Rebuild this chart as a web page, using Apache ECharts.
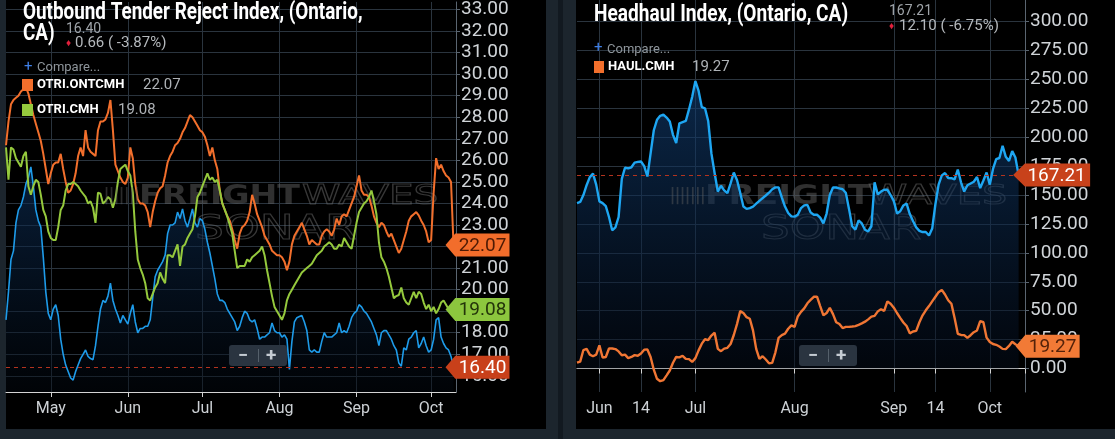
<!DOCTYPE html>
<html>
<head>
<meta charset="utf-8">
<script src="https://cdn.jsdelivr.net/npm/echarts@6/dist/echarts.min.js"></script>
<style>
  html, body { margin: 0; padding: 0; background: #1c252d; }
  #chart { width: 1115px; height: 439px; }
</style>
</head>
<body>
<div id="chart"></div>
<script>
// daily values, left panel starts Apr 13, right panel starts May 25
const otriOntario = [
  18.6,19.9,21.4,21.8,23.1,23.7,23.9,24.3,24.9,25.2,
  25.7,24.8,23.7,23.2,22.9,21.5,19.9,18.9,18.6,19.1,
  19.3,18.8,17.7,17.0,16.5,16.2,15.9,15.8,16.2,16.5,
  16.8,17.0,17.2,16.9,16.8,16.75,17.4,18.3,19.1,19.5,
  19.4,19.7,20.3,19.5,19.1,18.8,18.45,18.8,18.6,18.4,
  18.9,19.3,18.5,18.0,18.2,18.2,18.3,18.3,18.6,19.6,
  20.6,20.9,21.1,21.3,21.6,22.6,23.0,23.0,23.1,23.6,
  23.3,23.75,23.2,22.9,23.3,23.75,23.1,22.9,23.3,23.2,
  22.8,22.2,21.7,21.1,20.5,19.8,19.5,19.5,19.4,19.1,
  18.9,18.7,18.5,18.1,18.3,18.7,19.0,18.9,18.6,18.5,
  18.6,18.2,17.7,17.8,17.8,17.9,18.0,18.45,18.1,18.0,
  18.0,17.8,17.9,17.7,16.3,17.6,18.5,18.7,18.75,18.8,
  18.5,18.1,17.2,17.1,17.2,17.1,17.1,17.6,18.0,17.8,
  17.8,17.8,17.9,18.0,18.45,18.0,18.1,18.0,18.3,18.7,
  18.9,19.0,19.3,19.2,19.0,18.9,18.7,18.5,18.2,17.9,
  17.4,18.0,18.1,18.1,17.9,17.7,17.4,17.2,16.6,16.45,
  17.3,17.2,17.7,17.8,18.0,18.1,17.3,17.5,17.8,17.4,
  17.1,17.2,17.7,18.6,18.7,17.8,17.5,17.3,17.2,16.9,
  16.40
];
const otriOntcmh = [
  26.7,27.8,28.6,28.8,28.9,29.0,29.2,29.3,29.4,29.1,
  28.6,28.1,27.7,27.3,26.9,26.3,25.6,24.9,25.4,25.8,
  25.9,25.9,26.3,25.6,25.0,24.5,24.6,24.9,25.4,26.2,
  26.6,26.2,27.4,26.6,26.4,26.3,26.2,27.4,27.8,27.8,
  27.9,28.2,28.8,27.4,25.8,25.5,25.2,25.0,24.9,25.2,
  26.6,26.1,24.9,24.2,24.0,24.0,23.9,23.6,22.9,23.6,
  24.1,24.5,24.7,24.8,25.3,25.9,26.2,26.4,26.7,26.8,
  27.0,27.3,27.5,27.8,28.1,28.0,27.8,27.6,27.4,27.3,
  27.1,26.7,26.2,26.6,26.0,25.6,24.6,24.0,23.7,23.4,
  23.2,22.8,22.3,21.9,22.6,22.9,23.0,23.2,23.6,24.4,
  24.0,23.5,23.2,22.9,22.5,22.3,22.1,21.8,21.7,21.6,
  21.6,21.5,21.3,20.9,21.3,22.1,22.5,22.7,22.9,23.1,
  22.8,22.5,22.1,22.3,22.2,22.1,22.1,22.5,22.7,22.8,
  22.7,22.5,22.8,23.3,23.0,23.4,23.5,23.4,23.7,24.0,
  24.3,24.8,25.3,24.6,24.4,24.4,24.3,23.9,23.4,23.1,
  22.9,23.1,23.0,22.7,22.45,22.6,22.3,22.0,21.7,21.9,
  22.3,22.7,23.2,23.4,23.5,23.6,23.45,23.2,23.0,22.7,
  22.2,22.3,24.5,26.1,25.6,25.8,25.5,25.3,25.2,25.0,
  22.07
];
const otriCmh = [
  26.6,25.1,26.6,26.5,26.1,25.9,25.7,26.2,26.4,24.8,
  24.4,24.8,25.1,25.0,24.4,23.7,23.4,22.7,22.4,22.3,
  22.3,22.9,23.7,23.9,24.6,24.9,24.9,25.0,24.9,24.8,
  24.6,24.45,24.3,24.0,24.1,23.8,23.1,24.5,24.45,24.0,
  24.1,24.3,24.2,23.8,24.2,25.0,25.6,25.7,25.8,25.5,
  25.3,24.5,22.7,21.4,21.0,20.7,20.3,19.6,19.5,19.8,
  20.1,20.3,20.8,20.5,20.3,21.6,21.6,21.5,21.8,22.1,
  21.1,22.0,22.1,22.4,22.6,22.8,23.4,24.3,24.5,24.8,
  25.1,25.4,25.1,25.2,25.0,25.1,24.6,24.0,23.7,23.4,
  23.0,22.6,21.8,21.0,21.1,21.1,21.1,21.4,21.3,21.5,
  21.6,21.7,21.8,22.0,21.6,20.9,20.3,19.7,19.2,19.0,
  18.8,18.6,18.9,19.5,19.8,20.0,20.2,20.4,20.6,20.8,
  20.9,21.0,21.1,21.2,21.4,21.6,21.7,21.8,22.0,22.1,
  22.2,22.1,21.9,21.9,22.1,22.0,22.4,22.2,22.0,21.9,
  22.5,23.1,23.6,23.8,24.0,24.1,24.3,24.6,24.1,23.5,
  22.2,21.5,21.3,21.0,20.6,20.1,19.6,19.7,19.75,20.1,
  19.6,19.4,19.3,19.6,19.9,19.6,19.9,19.8,19.4,19.1,
  19.3,19.0,19.2,18.9,19.1,19.4,19.5,19.3,19.1,19.1,
  19.08
];
const headhaulOntario = [
  143,144,150,158.5,165.5,168.5,159,144.5,143,140.4,
  131,119.5,122,131,164,173.6,173,174,178,178.6,
  179,175,166,186,206,215,218.5,219.5,217,213.5,
  202,195,212,213,214,224,235,248.5,240,226,
  225,214,186,169,153,158,154,151.7,160,169.5,
  163,152,140,138,138.7,140,142.5,145,147.3,149.6,
  152,155,156.6,156.6,148,140,134.5,131.5,131.3,133,
  138.7,141,141.5,135,133,133,130.5,125.5,134,150,
  156.5,156.5,155.7,155,152,138,123,120,128,125.4,
  120,118.5,123,161,150.5,153,154.6,154.5,150,145,
  134,136,141,142.6,133.5,127.5,122,119,118,118,
  115,121,142,159,167,169,164.7,164.5,163.5,172,
  161,153,158.5,160,161.5,165.6,156,162.5,169.5,159,
  172.5,181,182,192.6,183,179.5,188,182.5,167.21
];
const haulCmh = [
  5,6,16,17,12,10.6,12,20,9.5,10,
  17.3,17.3,16.8,14.8,11.5,12,9,10,11.6,11,
  13,16.3,16.4,10,-1,-8.9,-11,-10,-5.9,-1.7,
  5,10,9.6,11,8.3,8.1,5.7,9,15.7,21.5,
  25.3,24.6,28.5,30.9,17,15,17.2,17.9,21.2,29,
  38.4,49.6,48,44.4,43,33,17,8.3,10.6,7.8,
  4.6,4.9,14,26.5,28.9,30.1,34.4,37.3,36,45,
  49,52,56.4,59.3,62,62.2,54,46,48,52.5,
  47,40,38.5,35,36,36,36.3,36.7,37.8,39,
  40.5,42.5,44.8,45.5,49.4,51.3,49.8,58,56,52.6,
  48,43.8,39.8,36.7,30.4,32,32.5,40,46,50.3,
  54,58,62,66,68,64,59,56,43.6,30,
  29,28.9,26.5,28.8,31.4,32.9,41,40,26.7,23,
  21.2,20.5,19,17,16.8,19.5,23.1,21,19.27
];

const leftTickDates = ['05-01', '06-01', '07-01', '08-01', '09-01', '10-01'];
const leftTickLabels = ['May', 'Jun', 'Jul', 'Aug', 'Sep', 'Oct'];
const rightTickDates = ['06-01', '06-14', '07-01', '08-01', '09-01', '09-14', '10-01', '10-12'];
const rightTickLabels = ['Jun', '14', 'Jul', 'Aug', 'Sep', '14', 'Oct', ''];
const leftYTicks = [16, 17, 18, 19, 20, 21, 22, 23, 24, 25, 26, 27, 28, 29, 30, 31, 32, 33];
const rightYTicks = [0, 25, 50, 75, 100, 125, 150, 175, 200, 225, 250, 275, 300];

function makeDates(start, n) {
  const t0 = Date.parse(start + 'T00:00:00Z');
  return Array.from({ length: n }, (_, i) => new Date(t0 + i * 864e5).toISOString().slice(5, 10));
}
const leftDates = makeDates('2020-04-13', 182);
const rightDates = makeDates('2020-05-25', 141);

const FONT = 'Roboto, "Noto Sans", sans-serif';
const TITLE_FONT = 'Roboto, sans-serif';
const GRID = '#2a343e';

function xAxisFor(gridIndex, dates, tickDates, tickLabels) {
  const pick = (i, v) => tickDates.includes(v);
  return {
    type: 'category', gridIndex, data: dates, boundaryGap: false,
    axisLine: { lineStyle: { color: '#d4d4d4', width: 1 } },
    axisTick: { interval: pick, length: 5, lineStyle: { color: '#d4d4d4' } },
    axisLabel: {
      interval: pick, color: '#cdd1d5', fontSize: 16, fontFamily: FONT, margin: 9,
      formatter: v => tickLabels[tickDates.indexOf(v)] || ''
    },
    splitLine: { show: true, interval: pick, lineStyle: { color: GRID, width: 1 } }
  };
}
function yAxisFor(gridIndex, min, max, ticks) {
  return {
    type: 'value', gridIndex, position: 'right', min, max,
    axisLine: { show: true, lineStyle: { color: '#5a6570' } },
    axisTick: { show: true, length: 4, customValues: ticks, lineStyle: { color: '#5a6570' } },
    axisLabel: {
      customValues: ticks, color: '#d0d4d8', fontSize: 19, fontFamily: FONT, margin: 5,
      formatter: v => v.toFixed(2)
    },
    splitLine: { show: true, lineStyle: { color: GRID, width: 1 } }
  };
}
function tag(cat, val, bg, fg, w, dx) {
  return {
    silent: true, animation: false,
    symbol: 'path://M0,12L11,0L72,0L72,24L11,24Z',
    symbolSize: [w, 23], symbolOffset: [dx, 0],
    itemStyle: { color: bg },
    label: {
      show: true, position: 'inside', offset: [5, 1], color: fg,
      fontSize: 19, fontFamily: FONT, formatter: p => p.value.toFixed(2)
    },
    data: [{ coord: [cat, val], value: val }]
  };
}
function lastLine(val) {
  return {
    silent: true, animation: false, symbol: ['none', 'none'],
    label: { show: false },
    lineStyle: { type: [4, 4], color: '#b3331f', width: 1 },
    data: [{ yAxis: val }]
  };
}
function area(top, bottom) {
  return { color: new echarts.graphic.LinearGradient(0, 0, 0, 1, [
    { offset: 0, color: top }, { offset: 1, color: bottom }]) };
}

function txt(x, y, text, size, fill, extra) {
  return Object.assign({ type: 'text', x, y, silent: true, z: 20,
    style: Object.assign({ text, fill, fontSize: size, fontFamily: FONT, verticalAlign: 'middle' }, extra || {}) });
}
function box(x, y, w, h, fill, z) {
  return { type: 'rect', silent: true, z: z == null ? 20 : z, shape: { x, y, width: w, height: h }, style: { fill } };
}
function watermark(x0, xs) {
  const mark = { fill: 'none', stroke: 'rgba(110,110,110,0.5)', lineWidth: 1, fontFamily: '"DejaVu Sans", sans-serif' };
  return [
    txt(x0 - 35, 197, '|||||||', 20, 'rgba(95,95,95,0.45)', { fontWeight: 'bold' }),
    Object.assign(txt(x0, 197, 'FREIGHT', 27, 'rgba(95,95,95,0.5)', { fontWeight: 900, fontFamily: '"DejaVu Sans", sans-serif' }), { scaleX: xs[0], z: 1 }),
    Object.assign(txt(x0 + 163, 197, 'WAVES', 27, null, mark), { scaleX: xs[1], z: 1 }),
    Object.assign(txt(x0 + 56, 230, 'SONAR', 33, null, mark), { scaleX: xs[2], z: 1 })
  ];
}
function zoomCtl(x, y) {
  return [
    Object.assign(box(x, y, 58, 21, '#2a3440', 20), { shape: { x, y, width: 58, height: 21, r: 3 } }),
    txt(x + 9, y + 11, '−', 18, '#c5ccd3', { fontWeight: 'bold' }),
    { type: 'rect', silent: true, z: 21, shape: { x: x + 29, y: y + 4, width: 1, height: 13 }, style: { fill: '#55606b' } },
    txt(x + 37, y + 11, '+', 19, '#c5ccd3', { fontWeight: 'bold' })
  ];
}

const graphic = [
  box(6, 0, 540, 429, '#000', -10),
  box(576, 0, 539, 429, '#000', -10),
  box(558, 0, 5, 439, '#121920', -10),
  // left header
  Object.assign(txt(23, 24, 'Outbound Tender Reject Index, (Ontario,\nCA)', 23, '#ffffff',
    { fontWeight: 'bold', fontFamily: TITLE_FONT, lineHeight: 21 }), { scaleX: 0.82 }),
  txt(66, 29, '16.40', 14, '#9ea3a8'),
  txt(66, 43, '♦', 10, '#e0203c'),
  txt(75, 43, '0.66 ( -3.87%)', 15, '#b5b9bd'),
  txt(24, 67, '+', 15, '#3f7fe6'),
  txt(37, 68, 'Compare...', 13, '#8e959b'),
  box(22, 79, 11, 12, '#f26f2c'),
  txt(37, 85, 'OTRI.ONTCMH', 13, '#ffffff', { fontWeight: 'bold' }),
  txt(143, 85, '22.07', 15, '#aeb2b6'),
  box(22, 104, 11, 12, '#95c93d'),
  txt(37, 110, 'OTRI.CMH', 13, '#ffffff', { fontWeight: 'bold' }),
  txt(118, 110, '19.08', 15, '#aeb2b6'),
  // right header
  Object.assign(txt(594, 15, 'Headhaul Index, (Ontario, CA)', 23, '#ffffff',
    { fontWeight: 'bold', fontFamily: TITLE_FONT }), { scaleX: 0.83 }),
  txt(889, 11, '167.21', 14, '#9ea3a8'),
  txt(889, 26, '♦', 10, '#e0203c'),
  txt(899, 26, '12.10 ( -6.75%)', 15, '#b5b9bd'),
  txt(594, 48, '+', 15, '#3f7fe6'),
  txt(607, 50, 'Compare...', 13, '#8e959b'),
  box(594, 61, 10, 12, '#f26f2c'),
  txt(608, 67, 'HAUL.CMH', 13, '#ffffff', { fontWeight: 'bold' }),
  txt(692, 67, '19.27', 15, '#aeb2b6')
].concat(watermark(139, [1.23, 1.44, 1.38]), watermark(705, [1.27, 1.47, 1.37]),
  zoomCtl(229, 345), zoomCtl(799, 345));

const chart = echarts.init(document.getElementById('chart'));
chart.setOption({
  animation: false,
  backgroundColor: '#1c252d',
  grid: [
    { left: 6, top: 0, width: 450, height: 392 },
    { left: 577, top: 0, width: 448, height: 392 }
  ],
  xAxis: [
    xAxisFor(0, leftDates, leftTickDates, leftTickLabels),
    xAxisFor(1, rightDates, rightTickDates, rightTickLabels)
  ],
  yAxis: [
    yAxisFor(0, 15.25, 33.35, leftYTicks),
    yAxisFor(1, -20.3, 318.6, rightYTicks)
  ],
  graphic,
  series: [
    {
      name: 'Outbound Tender Reject Index, (Ontario, CA)', type: 'line', xAxisIndex: 0, yAxisIndex: 0,
      data: otriOntario, showSymbol: false, z: 2,
      lineStyle: { color: '#1e9be9', width: 1.6 },
      areaStyle: area('rgba(14,52,98,0.85)', 'rgba(2,8,16,0.6)'),
      markLine: lastLine(16.40),
      markPoint: tag(leftDates[otriOntario.length - 1], 16.40, '#c8401a', '#ffffff', 64, 24)
    },
    {
      name: 'OTRI.ONTCMH', type: 'line', xAxisIndex: 0, yAxisIndex: 0,
      data: otriOntcmh, showSymbol: false, z: 3,
      lineStyle: { color: '#f26f2c', width: 2 },
      markPoint: tag(leftDates[otriOntcmh.length - 1], 22.07, '#f26d2b', '#4d1a04', 64, 24)
    },
    {
      name: 'OTRI.CMH', type: 'line', xAxisIndex: 0, yAxisIndex: 0,
      data: otriCmh, showSymbol: false, z: 3,
      lineStyle: { color: '#95c93d', width: 2 },
      markPoint: tag(leftDates[otriCmh.length - 1], 19.08, '#8cc63e', '#23340a', 64, 24)
    },
    {
      name: 'Headhaul Index, (Ontario, CA)', type: 'line', xAxisIndex: 1, yAxisIndex: 1,
      data: headhaulOntario, showSymbol: false, z: 2,
      lineStyle: { color: '#1ea6f2', width: 2.4 },
      areaStyle: area('rgba(18,66,122,0.85)', 'rgba(4,12,26,0.7)'),
      markLine: lastLine(167.21),
      markPoint: tag(rightDates[headhaulOntario.length - 1], 167.21, '#c8421b', '#ffffff', 77, 33)
    },
    {
      name: 'HAUL.CMH', type: 'line', xAxisIndex: 1, yAxisIndex: 1,
      data: haulCmh, showSymbol: false, z: 3,
      lineStyle: { color: '#f07634', width: 2.4 },
      markPoint: tag(rightDates[haulCmh.length - 1], 19.27, '#f27a36', '#54220a', 64, 29)
    }
  ]
});
</script>
</body>
</html>
